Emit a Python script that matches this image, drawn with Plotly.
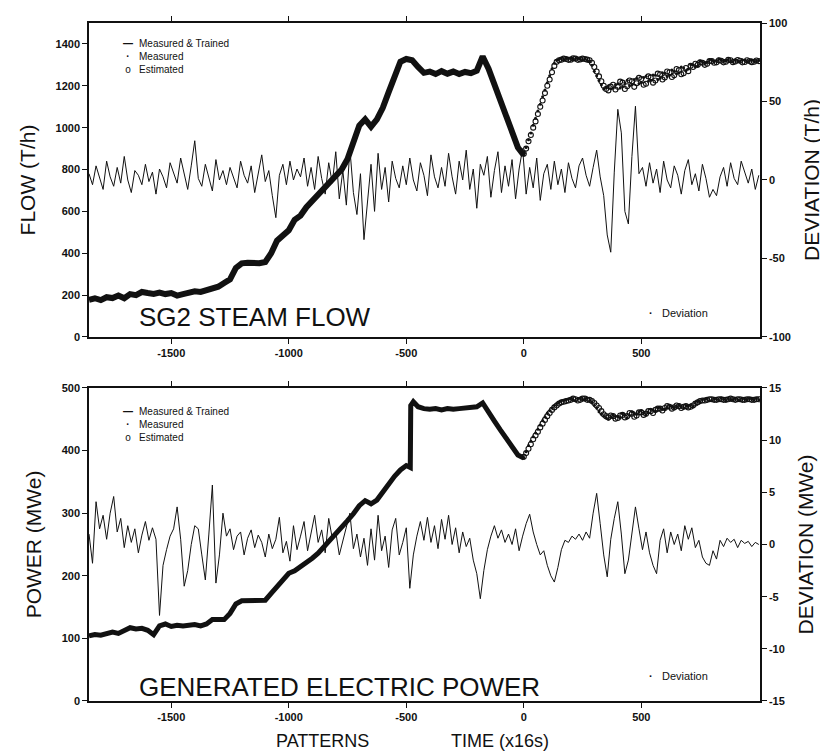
import plotly.graph_objects as go

# ---------------- DATA ----------------
# pattern index (time x16 s)
trained_x = list(range(-1850, 1, 25))
flow_trained = [
    178, 185, 176, 190, 186, 198, 185, 205, 200, 215,
    210, 206, 212, 205, 210, 198, 205, 212, 218, 215,
    222, 226, 240, 258, 275, 330, 352, 355, 350, 352,
    358, 400, 460, 490, 510, 560, 580, 620, 650, 690,
    720, 745, 770, 800, 850, 930, 1010, 1040, 1005, 1040,
    1095, 1170, 1250, 1315, 1328, 1322, 1290, 1262, 1268, 1256,
    1270, 1258, 1268, 1256, 1266, 1260, 1272, 1340, 1282, 1208,
    1130, 1055, 980, 905, 868,
]

est_x = list(range(0, 1001, 10))
flow_estimated = [
    875, 900, 935, 965, 1000, 1030, 1065, 1100, 1130, 1165,
    1200, 1230, 1265, 1295, 1315, 1322, 1325, 1330, 1328, 1324,
    1325, 1331, 1330, 1324, 1326, 1330, 1328, 1325, 1322, 1310,
    1290, 1268, 1245, 1222, 1200, 1185, 1178, 1196, 1205, 1182,
    1195, 1220, 1215, 1185, 1198, 1225, 1222, 1195, 1212, 1238,
    1232, 1205, 1210, 1245, 1240, 1215, 1225, 1258, 1255, 1230,
    1240, 1268, 1265, 1242, 1250, 1280, 1275, 1255, 1260, 1285,
    1270, 1296, 1290, 1305, 1300, 1312, 1310, 1300, 1305, 1318,
    1318, 1310, 1312, 1322, 1320, 1312, 1315, 1324, 1322, 1313,
    1316, 1323, 1320, 1312, 1314, 1322, 1318, 1313, 1315, 1321,
    1318,
]
flow_measured = [
    870, 905, 942, 975, 1012, 1045, 1080, 1112, 1148, 1180,
    1215, 1248, 1282, 1308, 1322, 1327, 1330, 1326, 1332, 1328,
    1332, 1327, 1329, 1331, 1328, 1324, 1330, 1322, 1318, 1298,
    1270, 1248, 1225, 1205, 1185, 1192, 1200, 1186, 1188, 1205,
    1210, 1190, 1195, 1215, 1226, 1200, 1205, 1230, 1236, 1210,
    1215, 1240, 1246, 1222, 1226, 1252, 1250, 1230, 1236, 1262,
    1260, 1245, 1250, 1275, 1270, 1258, 1262, 1290, 1285, 1272,
    1280, 1302, 1300, 1290, 1295, 1318, 1315, 1306, 1312, 1324,
    1322, 1315, 1318, 1328, 1325, 1316, 1320, 1326, 1318, 1314,
    1324, 1320, 1316, 1325, 1322, 1315, 1320, 1324, 1316, 1318,
    1321,
]

power_trained_x = list(range(-1850, -499, 25)) + [
    -483, -481, -470, -450, -425, -400, -375, -350, -325, -300,
    -275, -250, -225, -200, -175, -150, -125, -100, -75, -50, -25, 0]
power_trained = [
    104, 106, 105, 107, 110, 108, 112, 117, 115, 116,
    113, 106, 120, 123, 119, 121, 120, 121, 122, 120,
    123, 130, 131, 130, 140, 155, 160, 160, 159, 160,
    161, 172, 183, 195, 204, 208, 214, 221, 228, 236,
    246, 256, 266, 277, 288, 299, 312, 320, 315, 321,
    334, 347, 359, 369, 376,
    373, 472, 478, 470, 467, 466, 467, 465, 467, 466,
    467, 468, 468, 470, 476, 460, 447, 433, 420, 406, 393, 388,
]
power_estimated = [
    390, 396, 403, 410, 418, 424, 430, 437, 443, 449,
    455, 460, 465, 469, 472, 475, 477, 478, 479, 480,
    481, 483, 482, 480, 481, 483, 483, 481, 481, 479,
    476, 472, 468, 463, 458, 455, 453, 456, 455, 451,
    452, 456, 457, 453, 455, 460, 459, 454, 456, 461,
    461, 457, 459, 463, 463, 460, 465, 467, 467, 464,
    468, 471, 470, 467, 469, 472, 471, 468, 470, 471,
    469, 470, 472, 475, 477, 479, 480, 480, 481, 482,
    482, 481, 481, 482, 482, 481, 481, 482, 483, 482,
    481, 482, 482, 481, 481, 482, 482, 481, 481, 482,
    482,
]
power_measured = [
    388, 398, 408, 415, 422, 428, 434, 441, 448, 454,
    460, 464, 468, 472, 475, 477, 479, 480, 481, 482,
    483, 481, 480, 483, 484, 482, 482, 484, 480, 477,
    472, 468, 462, 458, 455, 452, 450, 454, 457, 455,
    454, 452, 459, 457, 452, 456, 462, 460, 458, 462,
    464, 460, 457, 461, 466, 465, 463, 468, 469, 466,
    466, 469, 472, 470, 468, 471, 473, 470, 468, 472,
    471, 473, 470, 476, 479, 478, 481, 482, 483, 480,
    480, 483, 482, 480, 484, 482, 480, 483, 482, 481,
    483, 481, 480, 483, 482, 481, 483, 482, 481, 483,
    481,
]

dev_x = list(range(-1850, 1001, 15))
flow_deviation = [
    4, -3, 9, 1, -6, 12, 2, -4, 8, -2, 15, 0, -8, 6, 3, -3, 10, -1, 5, -9,
    7, 2, -5, 11, 4, -2, 14, 3, -6, 9, 25, 1, -4, 10, 2, -7, 13, 0, 6, -3,
    8, 1, -5, 12, 3, -2, 9, -8, 4, 16, -1, 6, -10, -24, 3, 10, -3, 12, 0, 7,
    2, 14, -4, 8, -6, 15, 1, -9, 11, -2, 18, -12, 6, -16, 20, -8, -22, 4, -38, -12,
    10, -20, 17, -6, 8, -14, 12, 1, -5, 9, -3, 14, 0, -7, 11, 3, -10, 16, 2, -5,
    8, -4, 17, 2, -9, 12, 0, 19, -6, 7, -18, 10, 3, 15, -11, 6, 18, -8, 9, -4,
    13, -12, 7, 20, -9, 8, -5, 14, -13, 4, 10, -6, 12, -3, 7, -8, 11, 1, -5, 9,
    14, 3, -4, 8, 19, 2, -10, -35, -46, 5, 45, 30, -20, -28, 15, 47, 4, 8, -4, 11,
    -2, 7, -8, 12, 0, -5, 9, 3, -9, 6, 13, -3, 4, -7, 10, 1, -11, -6, -10, 2,
    8, -4, 11, 1, -3, 12, 5, -2, 7, -6, 3,
]
power_deviation = [
    1.0, -1.8, 4.1, 1.5, 2.8, 0.5, 3.0, 4.6, 1.2, 2.5, -0.3, 1.8, 0.2, 1.5, -0.8, 0.9, 2.2, 0.4, 1.6, 0.5,
    -6.8, -2.0, -0.5, 0.8, 1.5, 3.6, 0.5, -4.0, -2.5, 0.0, 1.8, 1.5, -1.0, -3.4, 1.0, 5.7, -3.7, -1.0, 3.0, 0.8,
    1.5, -0.5, 0.8, 1.2, -1.0, 0.6, 1.4, -0.3, 0.9, 0.2, -1.2, 1.0, -0.4, 0.5, 2.6, -0.8, 0.3, -1.6, 1.8, -0.5,
    0.8, 2.2, -0.6, 1.0, 2.8, 0.2, 1.4, -0.8, 2.5, 0.6, 1.2, -1.0, 0.4, 1.8, 3.0, -0.4, 1.0, -1.2, 0.6, -2.0,
    1.5, -1.5, 2.8, -0.6, 0.8, -2.2, 1.4, 2.5, -1.0, 0.2, 1.6, -4.2, -1.0, 0.8, 2.2, 0.4, 2.6, 0.2, 1.8, -0.4,
    2.4, 0.5, 2.8, 0.0, 1.6, -0.8, 1.2, -0.2, 0.6, -1.5, -2.8, -5.2, -2.5, -0.5, 0.8, 1.8, 0.6, 1.4, 0.2, 1.0,
    0.0, 1.5, -0.6, 0.8, 2.0, 2.9, 1.2, 0.0, -1.0, -0.6, -2.0, -3.0, -3.6, -2.2, -0.5, 0.4, 0.2, 0.8, 0.5, 1.0,
    0.4, 1.2, 0.6, 3.0, 4.9, 2.0, -1.0, -3.1, 0.5, 2.5, 4.1, 1.0, -2.8, -1.5, 1.2, 3.6, 1.5, -0.5, 1.2, -0.8,
    -2.0, -2.8, 0.4, 1.5, -0.8, 1.2, 0.0, 1.0, -0.6, 1.8, 0.5, 1.6, -0.3, 0.4, -1.2, -1.8, -2.0, -0.6, -1.4, 0.4,
    -0.2, 0.6, 0.2, 0.5, -0.3, 0.4, 0.1, 0.3, -0.2, 0.2, 0.0,
]

x_tick_vals = [-1500, -1000, -500, 0, 500]
x_tick_text = ["-1500", "-1000", "-500", "0", "500"]
flow_ticks = [0, 200, 400, 600, 800, 1000, 1200, 1400]
flow_dev_ticks = [-100, -50, 0, 50, 100]
flow_dev_text = ["-100", "-50", "0", "50", "100"]
power_ticks = [0, 100, 200, 300, 400, 500]
power_dev_ticks = [-15, -10, -5, 0, 5, 10, 15]
power_dev_text = ["-15", "-10", "-5", "0", "5", "10", "15"]

legend_names = ["Measured &amp; Trained", "Measured", "Estimated"]
legend_glyphs = ["<b>\u2014</b>", "<b>\u00b7</b>", "o"]

# ---------------- FIGURE ----------------
FONT = "Liberation Sans, Arial, sans-serif"
BLACK = "#111111"

fig = go.Figure()


def add_panel(xa, ya, ya_dev, tx, ty, lw, ex, est, meas, dx, dev):
    fig.add_trace(go.Scatter(x=tx, y=ty, xaxis=xa, yaxis=ya, mode="lines",
                             name="Measured & Trained",
                             line=dict(color=BLACK, width=lw)))
    fig.add_trace(go.Scatter(x=ex, y=est, xaxis=xa, yaxis=ya, mode="markers",
                             name="Estimated",
                             marker=dict(symbol="circle-open", size=5, color=BLACK,
                                         line=dict(width=1.1, color=BLACK))))
    fig.add_trace(go.Scatter(x=ex, y=meas, xaxis=xa, yaxis=ya, mode="markers",
                             name="Measured",
                             marker=dict(symbol="circle", size=3, color=BLACK)))
    fig.add_trace(go.Scatter(x=dx, y=dev, xaxis=xa, yaxis=ya_dev, mode="lines",
                             name="Deviation",
                             line=dict(color=BLACK, width=1)))


add_panel("x", "y", "y2", trained_x, flow_trained, 6, est_x, flow_estimated,
          flow_measured, dev_x, flow_deviation)
add_panel("x2", "y3", "y4", power_trained_x, power_trained, 5, est_x,
          power_estimated, power_measured, dev_x, power_deviation)

TOP = [0.5369, 1.0]
BOT = [0.0, 0.4617]
XR = [-1850, 1005]

axis_common = dict(showline=True, linecolor=BLACK, linewidth=1.5, ticks="outside",
                   ticklen=5, tickwidth=1.3, tickcolor=BLACK, showgrid=False,
                   zeroline=False, automargin=False,
                   tickfont=dict(family=FONT, size=11, color=BLACK, weight="bold"))
title_font = dict(family=FONT, size=21, color=BLACK)

fig.update_layout(
    width=828, height=754,
    margin=dict(l=81, r=76, t=15, b=61),
    paper_bgcolor="white", plot_bgcolor="white",
    font=dict(family=FONT, color=BLACK),
    showlegend=False,
    xaxis=dict(domain=[0, 1], anchor="y", range=XR, tickvals=x_tick_vals,
               ticktext=x_tick_text, mirror="ticks", **axis_common),
    yaxis=dict(domain=TOP, anchor="x", range=[0, 1500], tickvals=flow_ticks,
               title=dict(text="FLOW (T/h)", font=title_font, standoff=14),
               **axis_common),
    yaxis2=dict(overlaying="y", side="right", anchor="x", range=[-100, 100],
                tickvals=flow_dev_ticks, ticktext=flow_dev_text,
                title=dict(text="DEVIATION (T/h)", font=title_font, standoff=14),
                **axis_common),
    xaxis2=dict(domain=[0, 1], anchor="y3", range=XR, tickvals=x_tick_vals,
                ticktext=x_tick_text, mirror="ticks", **axis_common),
    yaxis3=dict(domain=BOT, anchor="x2", range=[0, 500], tickvals=power_ticks,
                title=dict(text="POWER (MWe)", font=title_font, standoff=14),
                **axis_common),
    yaxis4=dict(overlaying="y3", side="right", anchor="x2", range=[-15, 15],
                tickvals=power_dev_ticks, ticktext=power_dev_text,
                title=dict(text="DEVIATION (MWe)", font=title_font, standoff=14),
                **axis_common),
)


def ann(text, x, y, size, xanchor="left", align="left"):
    fig.add_annotation(text=text, xref="paper", yref="paper", x=x, y=y,
                       xanchor=xanchor, yanchor="middle", showarrow=False,
                       align=align, borderpad=0,
                       font=dict(family=FONT, size=size, color=BLACK))


# legend keys (top and bottom panels): glyph column + label column
for center_y in (0.9499, 0.408):
    ann("<br>".join(legend_glyphs), 0.0581, center_y, 10,
        xanchor="center", align="center")
    ann("<br>".join(legend_names), 0.073, center_y, 10)

# deviation keys
for yy in (0.5723, 0.0369):
    ann("<b>\u00b7</b>", 0.8376, yy, 11, xanchor="center")
    ann("Deviation", 0.8525, yy, 11)

ann("SG2 STEAM FLOW", 0.073, 0.566, 26)
ann("GENERATED ELECTRIC POWER", 0.073, 0.021, 26)
ann("PATTERNS", 0.277, -0.059, 18)
ann("TIME (x16s)", 0.538, -0.059, 18)

fig.write_html("out.html")
